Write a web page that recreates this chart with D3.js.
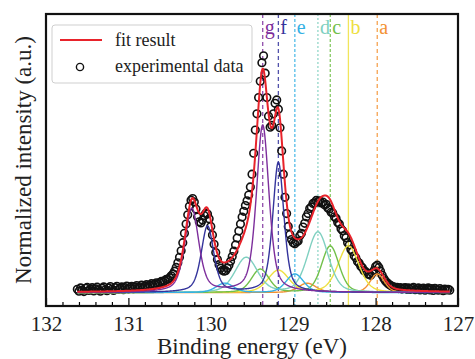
<!DOCTYPE html>
<html>
<head>
<meta charset="utf-8">
<script src="https://cdn.jsdelivr.net/npm/d3@7"></script>
<style>
  body { margin: 0; background: #fff; }
  svg { display: block; }
  svg text { font-family: "Liberation Serif", "Times New Roman", "DejaVu Serif", serif; }
</style>
</head>
<body>
<svg id="chart" width="475" height="359"></svg>
<script>
var energyStart = 131.62, energyStep = 0.02;
var intensities = [
  0.014,0.006,0.020,0.010,0.004,0.018,0.022,0.009,0.015,0.021, // 131.62
  0.007,0.016,0.023,0.011,0.006,0.019,0.024,0.012,0.008,0.020, // 131.42
  0.026,0.014,0.009,0.021,0.027,0.013,0.018,0.024,0.012,0.021, // 131.22
  0.028,0.015,0.022,0.027,0.016,0.024,0.030,0.018,0.025,0.032, // 131.02
  0.021,0.028,0.034,0.024,0.031,0.038,0.029,0.036,0.042,0.035, // 130.82
  0.043,0.048,0.044,0.051,0.057,0.057,0.064,0.072,0.080,0.092, // 130.62
  0.108,0.128,0.152,0.180,0.215,0.255,0.295,0.335,0.372,0.398, // 130.42
  0.405,0.390,0.360,0.325,0.305,0.300,0.312,0.332,0.342,0.338, // 130.22
  0.318,0.285,0.248,0.208,0.172,0.142,0.120,0.105,0.096,0.092, // 130.02
  0.094,0.105,0.118,0.135,0.155,0.178,0.205,0.235,0.265,0.295, // 129.82
  0.325,0.350,0.375,0.395,0.420,0.455,0.510,0.600,0.700,0.770, // 129.62
  0.840,0.910,0.990,1.020,0.945,0.840,0.760,0.712,0.720,0.770, // 129.42
  0.815,0.830,0.790,0.710,0.610,0.510,0.410,0.340,0.285,0.250, // 129.22
  0.228,0.215,0.210,0.218,0.222,0.245,0.255,0.282,0.298,0.326, // 129.02
  0.340,0.362,0.368,0.384,0.386,0.397,0.391,0.395,0.386,0.390, // 128.82
  0.378,0.380,0.364,0.360,0.346,0.343,0.326,0.320,0.302,0.295, // 128.62
  0.275,0.266,0.245,0.236,0.215,0.205,0.185,0.177,0.158,0.150, // 128.42
  0.134,0.127,0.113,0.107,0.094,0.090,0.080,0.079,0.074,0.084, // 128.22
  0.095,0.112,0.118,0.108,0.092,0.075,0.060,0.050,0.042,0.036, // 128.02
  0.031,0.027,0.024,0.020,0.022,0.017,0.021,0.015,0.019,0.021, // 127.82
  0.014,0.020,0.013,0.018,0.022,0.012,0.017,0.020,0.011,0.016, // 127.62
  0.019,0.010,0.015,0.020,0.011,0.017,0.009,0.018,0.013,0.010, // 127.42
  0.017,0.012,0.008,0.015,0.011,0.014,0.010                    // 127.22
];

// fitted components: one doublet (3/2 and 1/2) per species
var peakNames   = ["a", "b", "c", "d", "e", "f", "g"];
var peakColors  = ["#f39233", "#eee040", "#72c04a", "#7fd0c0", "#35b0e4", "#34349c", "#7d2e9c"];
var peakCenters = [127.98, 128.33, 128.55, 128.70, 128.98, 129.18, 129.37]; // 3/2 positions (eV)
var peakHeights = [0.080, 0.200, 0.200, 0.260, 0.080, 0.560, 0.720];
var peakWidths  = [0.20, 0.30, 0.25, 0.30, 0.25, 0.16, 0.18];
var halfCenters = [128.83, 129.18, 129.40, 129.57, 129.83, 130.04, 130.23]; // 1/2 positions (eV)
var halfHeights = [0.040, 0.095, 0.100, 0.150, 0.040, 0.285, 0.360];
var halfWidths  = [0.25, 0.30, 0.25, 0.32, 0.25, 0.18, 0.20];
var lorentzMix  = [0.3, 0.3, 0.3, 0.3, 0.3, 0.5, 0.5];
var lineDash    = ["4,3", null, "3,2", "2,2", "3,2", "4,3", "4,3"];

var xTicks = [132, 131, 130, 129, 128, 127];

// layout (avoid the name "top", it is window.top)
var svg = d3.select("#chart");
var plotLeft = 46, plotRight = 458, plotTop = 14, plotBottom = 306;
var serif = "Liberation Serif, Times New Roman, DejaVu Serif, serif";

var x = d3.scaleLinear().domain([132, 127]).range([plotLeft, plotRight]);
var y = d3.scaleLinear().domain([-0.058, 1.2]).range([plotBottom, plotTop]);

var data = intensities.map(function(v, i) {
  return { e: energyStart - i * energyStep, v: v };
});
var eMin = d3.min(data, d => d.e), eMax = d3.max(data, d => d.e);

// pseudo-Voigt peak shape
function pv(e, c, h, w, m) {
  var t = (e - c) / w;
  return h * ((1 - m) * Math.exp(-4 * Math.LN2 * t * t) + m / (1 + 4 * t * t));
}
function component(k, e) {
  return pv(e, peakCenters[k], peakHeights[k], peakWidths[k], lorentzMix[k]) +
         pv(e, halfCenters[k], halfHeights[k], halfWidths[k], lorentzMix[k]);
}

var grid = d3.range(eMin, eMax + 0.0001, 0.004);
var line = d3.line().x(d => x(d[0])).y(d => y(d[1]));

// vertical reference lines
peakNames.forEach(function(name, k) {
  svg.append("line")
    .attr("x1", x(peakCenters[k])).attr("x2", x(peakCenters[k]))
    .attr("y1", plotTop).attr("y2", plotBottom)
    .attr("stroke", peakColors[k])
    .attr("stroke-width", 1.3)
    .attr("stroke-opacity", 0.85)
    .attr("stroke-dasharray", lineDash[k]);
  svg.append("text")
    .attr("x", x(peakCenters[k]) + 2)
    .attr("y", 34)
    .attr("fill", peakColors[k])
    .attr("font-family", serif)
    .attr("font-size", 20)
    .text(name);
});

// experimental points
svg.append("g").selectAll("circle")
  .data(data)
  .join("circle")
  .attr("cx", d => x(d.e))
  .attr("cy", d => y(d.v))
  .attr("r", 3.8)
  .attr("fill", "none")
  .attr("stroke", "#111")
  .attr("stroke-width", 1.6);

// component curves, g drawn last
peakNames.forEach(function(name, k) {
  svg.append("path")
    .datum(grid.map(e => [e, component(k, e)]))
    .attr("d", line)
    .attr("fill", "none")
    .attr("stroke", peakColors[k])
    .attr("stroke-width", 1.4);
});

// total fit
svg.append("path")
  .datum(grid.map(function(e) {
    return [e, d3.sum(peakNames, (n, k) => component(k, e))];
  }))
  .attr("d", line)
  .attr("fill", "none")
  .attr("stroke", "#e8232b")
  .attr("stroke-width", 2);

// x axis, ticks pointing inward
var minorTicks = d3.range(0, 26).map(i => 132 - i * 0.2).filter(v => Math.abs(v - Math.round(v)) > 0.01);
svg.append("g")
  .attr("transform", "translate(0," + plotBottom + ")")
  .call(d3.axisBottom(x).tickValues(minorTicks).tickSize(-4).tickFormat(""))
  .call(g => g.select(".domain").remove())
  .call(g => g.selectAll("line").attr("stroke-width", 1.2));
svg.append("g")
  .attr("transform", "translate(0," + plotBottom + ")")
  .call(d3.axisBottom(x).tickValues(xTicks).tickSize(-8).tickPadding(10).tickFormat(d3.format("d")))
  .call(g => g.select(".domain").remove())
  .call(g => g.selectAll("line").attr("stroke-width", 1.2))
  .call(g => g.selectAll("text")
    .attr("font-family", serif)
    .attr("font-size", 21)
    .attr("fill", "#222"));

// frame
svg.append("rect")
  .attr("x", plotLeft).attr("y", plotTop)
  .attr("width", plotRight - plotLeft).attr("height", plotBottom - plotTop)
  .attr("fill", "none")
  .attr("stroke", "#111")
  .attr("stroke-width", 2.2);

// axis titles
svg.append("text")
  .attr("x", (plotLeft + plotRight) / 2)
  .attr("y", 354)
  .attr("text-anchor", "middle")
  .attr("font-family", serif)
  .attr("font-size", 23)
  .attr("fill", "#222")
  .text("Binding energy (eV)");
svg.append("text")
  .attr("transform", "translate(31," + ((plotTop + plotBottom) / 2) + ") rotate(-90)")
  .attr("text-anchor", "middle")
  .attr("font-family", serif)
  .attr("font-size", 23)
  .attr("fill", "#222")
  .text("Normalized intensity (a.u.)");

// legend
var legend = svg.append("g");
legend.append("rect")
  .attr("x", 52).attr("y", 25)
  .attr("width", 200).attr("height", 58)
  .attr("rx", 3)
  .attr("fill", "#fff").attr("fill-opacity", 0.9)
  .attr("stroke", "#cfcfcf");
legend.append("line")
  .attr("x1", 60).attr("x2", 102).attr("y1", 40).attr("y2", 40)
  .attr("stroke", "#e8232b").attr("stroke-width", 2);
legend.append("circle")
  .attr("cx", 80).attr("cy", 67).attr("r", 3.6)
  .attr("fill", "none").attr("stroke", "#111").attr("stroke-width", 1.4);
legend.append("text")
  .attr("x", 115).attr("y", 46)
  .attr("font-family", serif)
  .attr("font-size", 18).attr("fill", "#222")
  .text("fit result");
legend.append("text")
  .attr("x", 115).attr("y", 72)
  .attr("font-family", serif)
  .attr("font-size", 18).attr("fill", "#222")
  .text("experimental data");
</script>
</body>
</html>
